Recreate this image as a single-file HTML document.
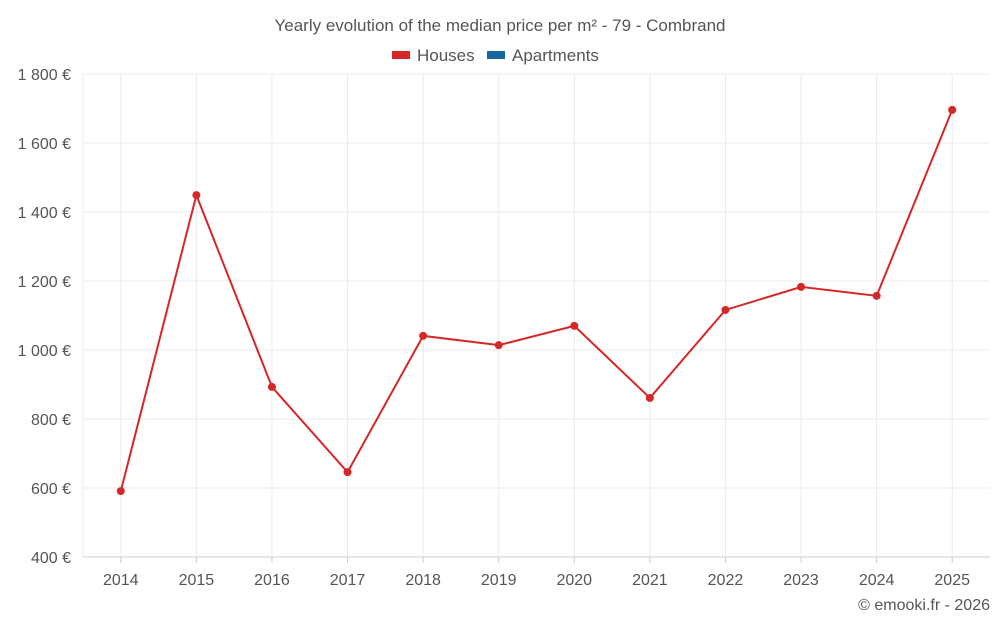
<!DOCTYPE html>
<html><head><meta charset="utf-8"><style>
body{margin:0;background:#fff;font-family:"Liberation Sans",sans-serif;}
svg text{font-family:"Liberation Sans",sans-serif;fill:#555;}
</style></head><body>
<svg id="chart" width="1000" height="625">
<text x="500" y="31" text-anchor="middle" font-size="17">Yearly evolution of the median price per m² - 79 - Combrand</text>
<g>
<g><rect x="392" y="51" width="18" height="8" fill="#d62728"/><text x="417" y="61" font-size="17">Houses</text></g>
<g><rect x="487" y="51" width="18" height="8" fill="#1565a0"/><text x="512" y="61" font-size="17">Apartments</text></g>
</g>
<g id="grid"></g><g id="axes"></g><g id="marks"></g>
<text x="990" y="610" text-anchor="end" font-size="16">© emooki.fr - 2026</text>
</svg>
<script>
const years=["2014","2015","2016","2017","2018","2019","2020","2021","2022","2023","2024","2025"];
const houses=[591,1449,893,646,1041,1014,1070,861,1116,1183,1157,1696];
const yTicks=[400,600,800,1000,1200,1400,1600,1800];
const L=83,R=990,T=74,B=557,ymin=400,ymax=1800;
const NS="http://www.w3.org/2000/svg";
const step=(R-L)/years.length;
const xs=i=>L+step*(i+0.5);
const ys=v=>B-(v-ymin)/(ymax-ymin)*(B-T);
function mk(t,a,p){const e=document.createElementNS(NS,t);for(const k in a)e.setAttribute(k,a[k]);p.appendChild(e);return e;}
const g=document.getElementById('grid'),ax=document.getElementById('axes'),m=document.getElementById('marks');
yTicks.forEach(v=>{
const l=mk('line',{x1:L,x2:R,y1:ys(v),y2:ys(v),stroke:v===ymin?'#ccc':'#ebebeb'},g);


const t=mk('text',{x:L-12,y:ys(v)+6,'text-anchor':'end','font-size':'16'},ax);
t.textContent=(v>=1000?Math.floor(v/1000)+' '+String(v%1000).padStart(3,'0'):v)+' €';


});
const l0=mk('line',{x1:L,x2:L,y1:T,y2:B,stroke:'#ebebeb'},g);


years.forEach((y,i)=>{
const l=mk('line',{x1:xs(i),x2:xs(i),y1:T,y2:B,stroke:'#ebebeb'},g);


const tk=mk('line',{x1:xs(i),x2:xs(i),y1:B,y2:B+6,stroke:'#ccc'},ax);


const t=mk('text',{x:xs(i),y:B+28,'text-anchor':'middle','font-size':'16'},ax);
t.textContent=y;


});
const p=mk('polyline',{points:houses.map((v,i)=>xs(i)+','+ys(v)).join(' '),fill:'none',stroke:'#d62728','stroke-width':2},m);


houses.forEach((v,i)=>{
const c=mk('circle',{cx:xs(i),cy:ys(v),r:4,fill:'#d62728'},m);


});
</script>
</body></html>
